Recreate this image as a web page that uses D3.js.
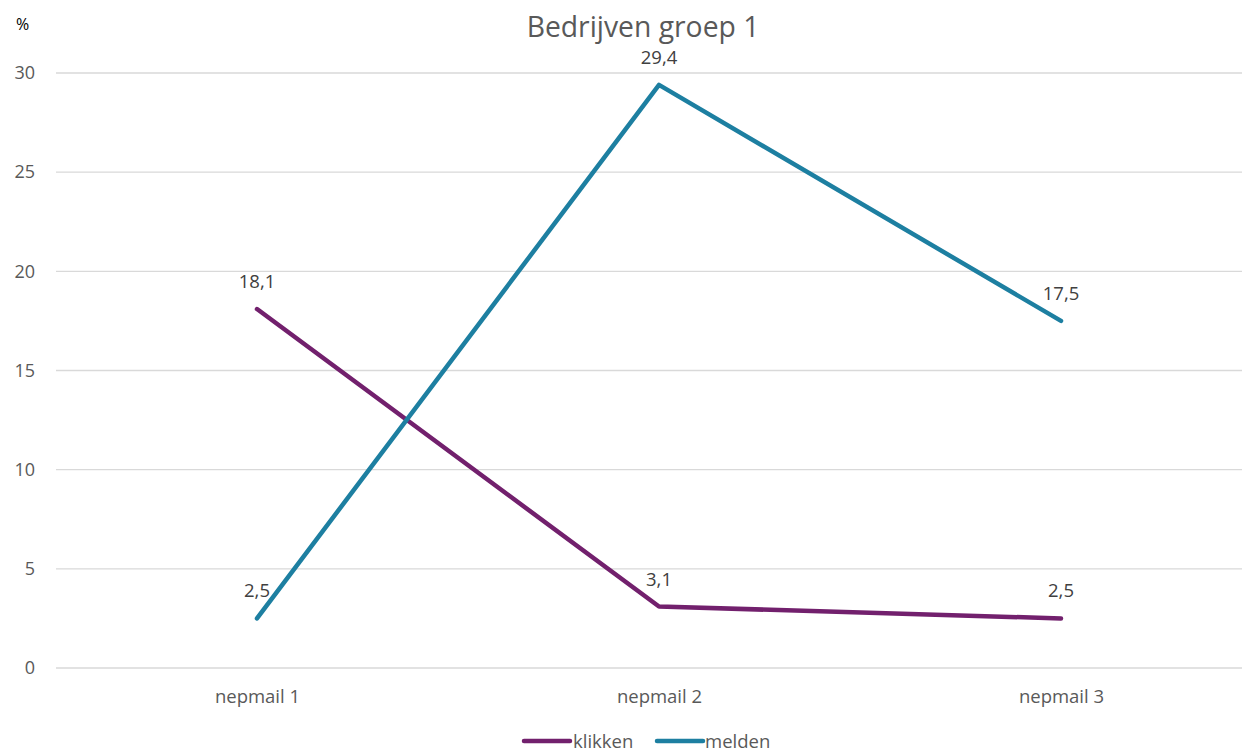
<!DOCTYPE html>
<html><head><meta charset="utf-8">
<script src="https://cdn.jsdelivr.net/npm/d3@7"></script>
<style>body{margin:0;background:#fff;}svg{display:block;font-family:"Open Sans",sans-serif;}</style>
</head><body>
<svg id="c" width="1242" height="752"></svg>
<script>
const categories = ["nepmail 1", "nepmail 2", "nepmail 3"];
const klikken = [18.1, 3.1, 2.5];
const melden = [2.5, 29.4, 17.5];
const yTicks = [0, 5, 10, 15, 20, 25, 30];
const seriesNames = ["klikken", "melden"];
const colors = ["#72206D", "#1D7FA1"];

const svg = d3.select("#c");
const x = d3.scalePoint().domain(categories).range([257, 1061]);
const y = d3.scaleLinear().domain([0, 30]).range([668, 73]);

svg.append("g").selectAll("line").data(yTicks).join("line")
  .attr("x1", 56).attr("x2", 1242)
  .attr("y1", d => y(d)).attr("y2", d => y(d))
  .attr("stroke", "#d9d9d9").attr("stroke-width", 1.3);

const yAxis = d3.axisLeft(y).tickValues(yTicks).tickSize(0).tickPadding(0);
const ya = svg.append("g").attr("transform", "translate(35,0)").call(yAxis);
ya.select(".domain").remove();
ya.selectAll("text").attr("font-size", 18).attr("fill", "#595959")
  .attr("font-family", "Open Sans, sans-serif").attr("text-anchor", "end");

const xAxis = d3.axisBottom(x).tickSize(0).tickPadding(0);
const xa = svg.append("g").attr("transform", "translate(0,690)").call(xAxis);
xa.select(".domain").remove();
xa.selectAll("text").attr("font-size", 18.5).attr("fill", "#595959")
  .attr("font-family", "Open Sans, sans-serif");

svg.append("text").attr("x", 16).attr("y", 30).attr("font-size", 16).attr("fill", "#000").text("%");

svg.append("text").attr("x", 643).attr("y", 37).attr("text-anchor", "middle")
  .attr("font-size", 28.3).attr("fill", "#595959").text("Bedrijven groep 1");

const data = [klikken, melden];
const line = d3.line().x((d, i) => x(categories[i])).y(d => y(d));
data.forEach((vals, s) => {
  svg.append("path").datum(vals).attr("d", line)
    .attr("fill", "none").attr("stroke", colors[s]).attr("stroke-width", 4.5)
    .attr("stroke-linejoin", "round").attr("stroke-linecap", "round");
});
data.forEach((vals, s) => {
  svg.append("g").selectAll("text").data(vals).join("text")
    .attr("x", (d, i) => x(categories[i]))
    .attr("y", d => y(d) - 21)
    .attr("text-anchor", "middle").attr("font-size", 18.5).attr("fill", "#404040")
    .text(d => d.toFixed(1).replace(".", ","));
});

const leg = [{x: 524, tx: 573}, {x: 657, tx: 705}];
seriesNames.forEach((n, s) => {
  svg.append("line").attr("x1", leg[s].x).attr("x2", leg[s].x + 46)
    .attr("y1", 741).attr("y2", 741).attr("stroke", colors[s]).attr("stroke-width", 4.5)
    .attr("stroke-linecap", "round");
  svg.append("text").attr("x", leg[s].tx).attr("y", 748).attr("font-size", 18.5)
    .attr("fill", "#595959").text(n);
});
</script>
</body></html>
